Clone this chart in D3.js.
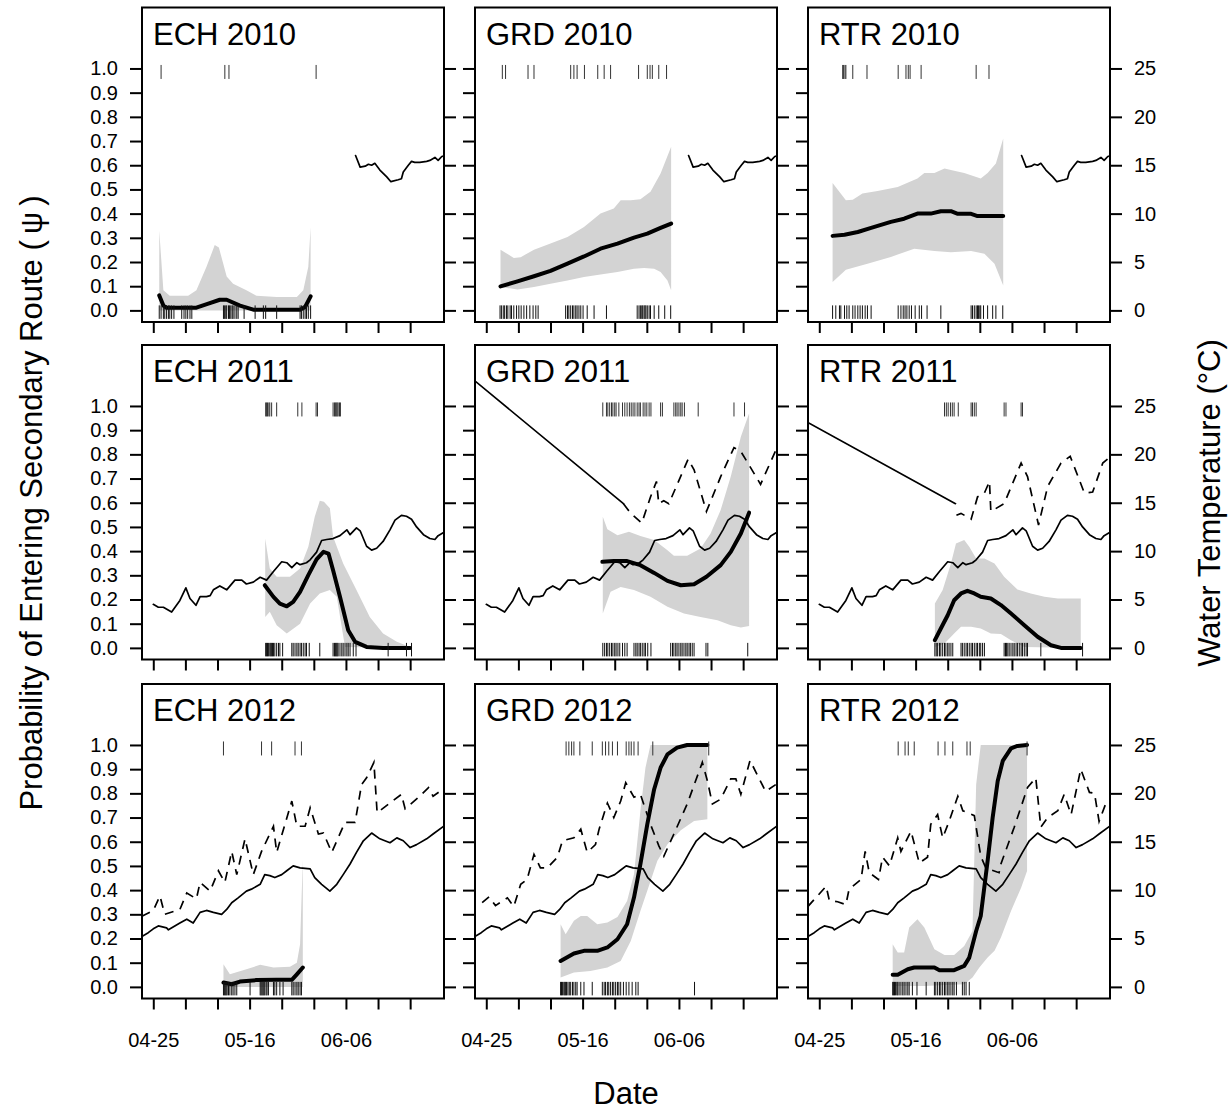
<!DOCTYPE html>
<html>
<head>
<meta charset="utf-8">
<script src="https://cdn.jsdelivr.net/npm/d3@7"></script>
<style>
  body { margin: 0; background: #fff; }
  text { font-family: "Liberation Sans", Arial, Helvetica, sans-serif; fill: #000; }
</style>
</head>
<body>
<svg id="chart" width="1229" height="1112"></svg>
<script>
// ---------- data: days since 25 April, probability (psi) or temperature (°C) ----------
const sites = ["ECH", "GRD", "RTR"];
const years = [2010, 2011, 2012];
const probTicks = [0, 0.1, 0.2, 0.3, 0.4, 0.5, 0.6, 0.7, 0.8, 0.9, 1.0];
const tempTicks = [0, 5, 10, 15, 20, 25];
const weekTicks = [0, 7, 14, 21, 28, 35, 42, 49, 56];

// fitted probability (thick line) and 95% band [day, value]
const fitECH2010 = [[1.3,.062],[2.2,.02],[2.9,.011],[9.4,.011],[12,.028],[14.5,.044],[16,.044],[18.9,.02],[21.8,.003],[32,.003],[33.1,.014],[34.3,.058]];
const hiECH2010 = [[1.3,.33],[2.2,.083],[3.6,.06],[7.6,.06],[9.4,.083],[11.6,.18],[13.4,.27],[14.3,.26],[16,.14],[17.4,.11],[20.3,.083],[22.5,.06],[26.9,.055],[31.3,.055],[32.7,.083],[33.8,.18],[34.3,.345]];
const loECH2010 = [[1.3,0],[34.3,0]];
const fitGRD2010 = [[3.1,.099],[6.8,.12],[10.4,.141],[14,.163],[17.7,.193],[21.3,.223],[24.9,.255],[28.6,.276],[32.2,.301],[35.1,.317],[38,.341],[40.3,.359]];
const hiGRD2010 = [[3.1,.251],[6,.217],[7.5,.22],[10.4,.251],[14,.276],[17.7,.303],[21.3,.345],[24.9,.4],[27.8,.421],[29.3,.455],[31.5,.455],[33.6,.459],[35.8,.49],[38,.566],[40.3,.676]];
const loGRD2010 = [[3.1,.097],[6.8,.086],[10.4,.097],[14,.11],[17.7,.124],[21.3,.138],[24.9,.148],[28.6,.159],[32.2,.172],[34.4,.175],[36.6,.172],[38,.159],[39.5,.124],[40.3,.083]];
const fitRTR2010 = [[2.9,.308],[5.5,.313],[8.4,.324],[11.3,.341],[15.6,.366],[18.5,.379],[21.4,.4],[24.3,.4],[26.5,.41],[28.7,.41],[30.2,.399],[33.1,.399],[34.5,.39],[40.1,.39]];
const hiRTR2010 = [[2.9,.527],[5.8,.455],[7.3,.457],[9.4,.483],[12.7,.494],[17.1,.51],[21.4,.545],[22.9,.568],[25.1,.568],[27.3,.586],[29.4,.577],[31.6,.568],[35.2,.545],[36.7,.568],[38.5,.607],[40.1,.71]];
const loRTR2010 = [[2.9,.117],[5.8,.168],[10.5,.193],[15.6,.221],[20.7,.255],[25.1,.246],[28.7,.24],[33.1,.246],[36,.234],[38.2,.193],[40.1,.103]];

const fitECH2011 = [[24.3,.259],[26.2,.211],[27.6,.183],[29.1,.172],[30.5,.19],[32,.232],[33.8,.301],[35.6,.366],[37.1,.397],[38.2,.39],[39.2,.321],[40.7,.211],[42.5,.073],[44,.025],[46.5,.004],[50.1,0],[56,0]];
const hiECH2011 = [[24.4,.452],[25.4,.328],[26.9,.294],[29.8,.294],[32,.328],[33.8,.418],[35.2,.542],[36.3,.608],[37.2,.604],[38.5,.577],[39.2,.459],[41.4,.349],[44.3,.239],[47.2,.128],[50.1,.059],[53.1,.025],[56,.004]];
const loECH2011 = [[24.4,.128],[25.4,.149],[26.9,.094],[29.1,.059],[32,.1],[34.2,.183],[36.3,.225],[38.5,.239],[40,.211],[41.8,.004],[56,0]];
const fitGRD2011 = [[25.3,.356],[27.8,.359],[30.7,.359],[33.6,.342],[36.6,.31],[39.5,.277],[42.4,.259],[45.3,.263],[48,.294],[51.1,.342],[53.3,.397],[55.5,.473],[57.3,.559]];
const hiGRD2011 = [[25.4,.542],[26.4,.49],[28.6,.466],[31.1,.48],[33.6,.462],[36.6,.446],[39.5,.404],[40.9,.381],[43.8,.381],[46.7,.411],[48.9,.473],[51.1,.57],[53.3,.708],[55.5,.873],[57.3,.97]];
const loGRD2011 = [[25.4,.142],[27.1,.232],[29.3,.252],[32.2,.239],[35.8,.211],[39.5,.17],[43.1,.142],[46.7,.128],[50.4,.114],[53.3,.094],[55.5,.084],[57.3,.09]];
const fitRTR2011 = [[25.2,.032],[26.5,.08],[28,.135],[29.4,.197],[30.9,.225],[32.3,.236],[33.8,.225],[35.2,.211],[37.4,.204],[39.6,.177],[41.8,.142],[44.7,.094],[47.6,.046],[50.5,.011],[52.7,0],[57,0]];
const hiRTR2011 = [[25.2,.183],[26.9,.239],[28.7,.349],[29.8,.432],[31.6,.446],[32.7,.418],[34.2,.37],[36,.37],[38.2,.349],[40.3,.294],[43.2,.241],[46.1,.225],[49.1,.211],[52,.204],[57,.204]];
const loRTR2011 = [[25.2,.004],[27.3,.018],[29.4,.059],[30.9,.087],[33.1,.087],[35.2,.08],[37.4,.059],[39.6,.057],[41.8,.032],[44.7,.004],[57,0]];

const fitECH2012 = [[15.3,.018],[17.1,.011],[18.9,.022],[22.5,.028],[26.9,.029],[30.2,.029],[31.3,.052],[32.6,.08]];
const hiECH2012 = [[15.3,.094],[16.7,.052],[20.3,.073],[23.3,.091],[26.2,.08],[29.8,.083],[31.3,.1],[32,.176],[32.6,.528]];
const loECH2012 = [[15.3,0],[32.6,0]];
const fitGRD2012 = [[16.2,.107],[19.1,.138],[21.3,.149],[24.2,.149],[26.4,.163],[28.6,.197],[30.7,.259],[32.2,.369],[33.6,.507],[35.1,.672],[36.6,.817],[38,.906],[39.5,.961],[41.6,.989],[43.8,1],[48.2,1]];
const hiGRD2012 = [[16.2,.259],[17.3,.218],[19.1,.273],[20.6,.293],[22,.293],[24.2,.259],[26.4,.266],[28.6,.289],[30.7,.355],[32.2,.466],[33.6,.727],[34.7,.906],[35.8,1],[48.2,1]];
const loGRD2012 = [[16.2,.039],[19.1,.059],[22.7,.066],[26.4,.08],[29.3,.107],[31.5,.19],[33.6,.314],[35.1,.397],[37.3,.521],[39.5,.59],[42.4,.647],[45.3,.686],[48.2,.693]];
const fitRTR2012 = [[16,.05],[17.1,.05],[19.3,.073],[20.7,.08],[25.1,.08],[26.2,.069],[29.4,.069],[31.6,.087],[32.7,.121],[34.2,.231],[35.2,.293],[36.7,.521],[37.8,.7],[38.9,.851],[40,.934],[41.8,.986],[43.2,.996],[45.3,1]];
const hiRTR2012 = [[16,.176],[17.1,.142],[18.5,.142],[19.6,.245],[21.4,.28],[22.9,.245],[25.1,.156],[27.3,.132],[29.4,.132],[31.6,.169],[33.4,.231],[34.2,.837],[35.2,1],[45.3,1]];
const loRTR2012 = [[16,.004],[22.9,.004],[31.6,.011],[33.4,.039],[34.9,.08],[36.7,.121],[38.2,.149],[39.6,.204],[41.8,.314],[44,.41],[45.3,.479]];

// detections: routes not taken (psi = 0) and secondary route (psi = 1), in days
const rug0ECH2010 = [1.3,1.7,2.2,2.5,2.9,3.3,3.6,4.0,4.5,6.2,6.7,7.1,7.5,8.0,8.4,15.3,15.5,15.8,16.0,16.4,16.6,16.9,17.2,17.4,17.8,18.2,18.5,19.8,22.2,24.0,24.5,26.9,32.0,32.3,32.7,33.1,33.4,33.8,34.3];
const rug1ECH2010 = [1.7,15.6,16.5,35.5];
const rug0GRD2010 = [3.0,3.3,3.7,4.0,4.4,4.7,5.2,5.5,6.0,6.6,7.1,7.6,8.2,8.8,9.5,10.2,10.8,11.3,17.3,17.7,18.0,18.4,18.8,19.1,19.5,19.8,20.2,20.6,21.1,22.0,23.5,26.2,32.9,33.3,33.6,33.9,34.1,34.4,34.6,34.8,35.1,35.5,35.8,36.6,37.6,38.9,40.2];
const rug1GRD2010 = [3.5,4.2,9.1,10.4,18.4,19.1,19.8,21.4,24.3,25.7,27.1,33.2,35.1,35.7,36.2,37.6,39.3];
const rug0RTR2010 = [2.9,3.6,4.4,4.7,5.5,6.0,6.5,7.3,7.8,8.4,8.9,9.4,10.0,10.5,11.3,17.2,17.8,18.3,18.7,19.1,19.6,20.1,20.9,21.8,22.3,23.5,26.5,33.1,33.4,33.8,34.2,34.5,34.7,35.0,35.2,35.8,36.7,37.8,38.5,40.0];
const rug1RTR2010 = [5.1,5.3,5.6,5.8,7.3,10.4,17.2,18.9,19.4,19.8,22.2,34.2,37.0];
const rug0ECH2011 = [24.5,24.7,24.9,25.1,25.4,25.6,25.8,26.0,26.2,26.5,26.9,27.3,27.6,28.2,30.2,30.5,30.9,31.3,31.6,32.0,32.3,32.7,33.1,33.4,34.0,36.3,39.2,39.5,39.7,39.9,40.1,40.3,40.7,41.1,41.4,41.8,42.2,42.5,42.9,43.6,44.2,51.2,55.2,56.3];
const rug1ECH2011 = [24.5,24.7,24.9,25.2,25.4,25.8,26.9,31.5,32.4,35.5,35.8,39.2,39.5,39.7,39.9,40.1,40.3,40.6,40.8];
const rug0GRD2011 = [25.4,25.8,26.2,26.5,26.9,27.3,27.6,28.0,28.3,28.7,29.1,29.7,30.2,30.7,32.2,32.6,32.9,33.3,33.6,34.0,34.4,34.7,35.2,35.9,40.2,40.6,40.9,41.3,41.6,42.0,42.4,42.7,43.1,43.5,43.8,44.2,44.5,44.9,45.3,47.9,48.3,57.0];
const rug1GRD2011 = [25.4,26.2,26.5,26.9,27.3,27.6,28.0,28.3,28.9,29.7,30.2,30.7,31.2,31.6,32.0,32.4,32.9,33.3,33.6,34.2,34.6,35.0,35.5,35.9,38.0,38.4,40.9,41.3,41.6,42.0,42.4,42.7,43.2,46.2,54.0,56.3];
const rug0RTR2011 = [25.2,25.5,25.8,26.2,26.5,26.9,27.3,27.6,28.0,28.3,28.7,29.1,30.9,31.2,31.6,32.0,32.3,32.7,33.1,33.4,33.8,34.2,34.5,34.9,35.2,35.6,36.0,40.3,40.6,40.8,41.1,41.4,41.8,42.2,42.5,42.9,43.2,43.6,44.0,44.3,44.7,45.1,45.4,48.3,57.4];
const rug1RTR2011 = [27.3,27.7,28.1,28.6,29.0,29.4,30.3,33.1,33.4,33.8,34.2,40.3,40.7,44.0,44.3];
const rug0ECH2012 = [15.3,15.5,15.7,15.9,16.1,16.4,16.7,17.1,17.4,17.8,18.2,21.1,23.3,23.5,23.7,23.9,24.1,24.3,24.6,24.8,25.1,26.2,26.5,26.9,27.6,28.3,30.2,30.5,30.9,31.3,31.6,32.0,32.3];
const rug1ECH2012 = [15.3,23.6,25.8,30.9,32.3];
const rug0GRD2012 = [16.2,16.4,16.6,16.9,17.1,17.3,17.5,17.8,18.1,18.4,18.8,19.1,19.5,19.8,20.6,21.3,23.1,25.3,25.7,26.0,26.4,26.7,27.1,27.5,27.8,28.2,28.6,28.9,29.3,29.9,30.5,31.1,31.8,32.6,33.1,45.4];
const rug1GRD2012 = [17.4,18.0,18.6,19.1,20.4,23.1,25.3,26.0,26.7,27.5,28.6,30.5,31.1,31.6,32.2,33.1,36.3,48.5];
const rug0RTR2012 = [16.0,16.2,16.4,16.6,16.9,17.1,17.4,17.8,18.2,18.5,18.9,19.3,19.6,20.3,21.3,23.3,25.1,25.4,25.8,26.2,26.5,26.9,27.3,27.6,28.0,28.3,28.7,29.1,29.4,29.9,31.2,31.6,32.0,32.7];
const rug1RTR2012 = [17.2,18.7,19.4,20.7,25.9,27.4,29.1,32.2,32.9,45.3];

// water temperature (°C): main-stem logger (solid) and site loggers (dashed)
const temp2010 = [[44.1,16.0],[45.1,14.8],[46.2,14.9],[46.9,15.1],[47.6,15.0],[48.3,15.2],[49.4,14.5],[50.9,13.8],[51.8,13.3],[53.4,13.5],[54.1,13.6],[54.5,14.3],[55.6,15.0],[56.3,15.4],[57.0,15.3],[58.1,15.3],[59.6,15.4],[60.3,15.5],[61.4,15.8],[62.1,15.5],[62.9,15.9],[63.6,16.0]];
const temp2011 = [[0,4.5],[1.1,4.2],[2.2,4.2],[4,3.7],[5.8,4.9],[7.1,6.2],[8,5.1],[9.3,4.4],[10.2,5.3],[11.6,5.3],[12.4,5.4],[13.1,6.0],[14.5,6.4],[16,6.0],[17.8,7.0],[19.3,7.0],[20.3,6.6],[21.8,6.8],[23.3,7.3],[24.7,7.0],[26.2,7.9],[28,8.9],[29.1,8.8],[30.2,8.3],[31.3,8.8],[32,8.6],[33.4,8.8],[34.2,9.1],[35.6,9.9],[36.7,11.1],[37.8,11.2],[39.2,11.3],[40.7,11.6],[42.2,12.2],[42.9,11.7],[44.3,12.4],[45.1,12.1],[46.5,10.5],[47.6,10.1],[48.7,10.3],[50.1,11.0],[51.6,12.2],[52.7,13.2],[54.1,13.7],[55.2,13.6],[56.3,13.3],[57.4,12.5],[58.9,11.7],[60.3,11.3],[61.4,11.2],[62.1,11.6],[63.6,12.0]];
const temp2012 = [[-2.5,5.2],[-1.1,5.6],[0,6.0],[1.1,6.3],[2.9,6.1],[3.3,5.9],[5.8,6.6],[7.3,7.0],[8.7,6.6],[10.2,7.7],[11.6,7.9],[13.1,7.7],[14.9,7.5],[16,8.0],[17.1,8.7],[18.5,9.2],[20.3,9.9],[21.4,10.1],[23.3,10.6],[24.3,11.6],[25.4,11.5],[26.5,11.3],[28,11.6],[29.1,12.0],[30.5,12.5],[32,12.3],[34.2,12.2],[35.2,11.3],[36.7,10.6],[38.5,9.9],[40,10.6],[41.4,11.6],[42.9,12.7],[44.3,13.9],[45.8,15.1],[47.6,15.9],[49.4,15.3],[51.6,14.9],[53.1,15.4],[54.5,15.1],[56,14.4],[57.4,14.7],[59.6,15.3],[61,15.8],[63.6,16.7]];
const siteLinkGRD2011 = [[-2.5,27.6],[29.9,14.9]];
const siteTempGRD2011 = [[29.9,14.9],[31.5,13.9],[33.9,12.9],[35.8,15.6],[37.1,17.2],[37.6,14.9],[38.7,15.2],[39.8,14.9],[44.0,19.5],[45.3,18.4],[48.0,14.1],[51.1,17.7],[54.0,20.7],[55.5,20.3],[59.8,16.9],[63.1,20.4],[63.6,20.5]];
const siteLinkRTR2011 = [[-2.5,23.3],[29.7,14.9]];
const siteTempRTR2011 = [[29.9,13.7],[30.9,13.9],[33.1,13.3],[34.5,15.6],[36,16.0],[37.1,17.2],[37.4,14.1],[40.3,14.9],[44.0,19.1],[45.4,17.7],[47.8,12.7],[49.8,16.7],[52.7,19.1],[54.7,19.8],[57.8,16.0],[59.6,16.1],[61.8,19.1],[63.6,19.8]];
const siteTempECH2012 = [[-2.5,7.3],[0,7.9],[1.45,9.4],[2.5,7.5],[5.8,8.0],[7.3,9.7],[9.4,9.1],[10.2,10.8],[12.4,9.9],[14.2,12.0],[15.6,10.8],[17.1,14.0],[18.2,11.6],[20,15.3],[21.8,11.6],[23.6,14.0],[26.2,16.6],[26.9,13.9],[30.2,19.2],[31.3,16.6],[33.1,16.6],[34.2,18.5],[36,15.8],[37.1,15.9],[38.9,13.9],[41.8,17.0],[44,17.0],[45.4,20.9],[46.5,21.6],[48.1,23.2],[48.8,18.0],[51.6,19.0],[54.1,19.9],[54.9,18.4],[58.1,19.7],[60,20.6],[61,19.7],[63.6,20.6]];
const siteTempGRD2012 = [[-0.9,8.7],[0.6,9.3],[2,8.4],[4.6,9.2],[6,8.3],[7.5,10.6],[8.9,11.1],[10.4,13.7],[11.8,12.3],[13.3,12.3],[15.5,13.4],[16.6,15.1],[19.1,15.4],[20.6,16.3],[22,13.9],[23.8,14.7],[24.6,16.3],[26.4,19.0],[27.8,17.5],[29.3,19.2],[30.4,21.1],[32.2,19.6],[33.6,19.9],[35.8,16.8],[37.6,14.6],[38.7,13.5],[40.9,15.8],[43.8,18.9],[47.1,23.2],[48.2,21.3],[49.3,18.9],[51.1,19.4],[53.3,21.5],[54.4,21.5],[55.5,19.9],[57.5,23.4],[60.9,20.2],[63.1,20.9]];
const siteTempRTR2012 = [[-2.5,8.3],[-0.4,9.4],[1.5,10.4],[2.2,8.9],[4,8.8],[5.8,8.5],[6.5,10.1],[9.1,11.1],[10,14.0],[10.9,11.8],[12.9,11.1],[13.8,13.4],[15.3,12.5],[17.1,15.4],[17.8,14.0],[20,16.1],[21.8,12.8],[23.6,13.4],[24.3,16.8],[25.8,17.8],[26.9,15.4],[28.3,17.1],[30.2,19.7],[31.3,18.2],[33.8,17.7],[35.2,13.5],[36.3,12.3],[39.2,11.8],[39.6,12.7],[42.5,16.5],[45.4,20.6],[47.2,21.6],[48.3,16.5],[49.8,17.5],[52,18.2],[53.4,19.9],[54.9,17.8],[57,22.5],[58.9,20.1],[60,20.0],[61,17.1],[62.5,19.0],[63.6,19.4]];

// ---------- panel table ----------
const panels = [
  { site: "ECH", year: 2010, fit: fitECH2010, hi: hiECH2010, lo: loECH2010, rug0: rug0ECH2010, rug1: rug1ECH2010, solid: [temp2010], dashed: [] },
  { site: "GRD", year: 2010, fit: fitGRD2010, hi: hiGRD2010, lo: loGRD2010, rug0: rug0GRD2010, rug1: rug1GRD2010, solid: [temp2010], dashed: [] },
  { site: "RTR", year: 2010, fit: fitRTR2010, hi: hiRTR2010, lo: loRTR2010, rug0: rug0RTR2010, rug1: rug1RTR2010, solid: [temp2010], dashed: [] },
  { site: "ECH", year: 2011, fit: fitECH2011, hi: hiECH2011, lo: loECH2011, rug0: rug0ECH2011, rug1: rug1ECH2011, solid: [temp2011], dashed: [] },
  { site: "GRD", year: 2011, fit: fitGRD2011, hi: hiGRD2011, lo: loGRD2011, rug0: rug0GRD2011, rug1: rug1GRD2011, solid: [temp2011, siteLinkGRD2011], dashed: [siteTempGRD2011] },
  { site: "RTR", year: 2011, fit: fitRTR2011, hi: hiRTR2011, lo: loRTR2011, rug0: rug0RTR2011, rug1: rug1RTR2011, solid: [temp2011, siteLinkRTR2011], dashed: [siteTempRTR2011] },
  { site: "ECH", year: 2012, fit: fitECH2012, hi: hiECH2012, lo: loECH2012, rug0: rug0ECH2012, rug1: rug1ECH2012, solid: [temp2012], dashed: [siteTempECH2012] },
  { site: "GRD", year: 2012, fit: fitGRD2012, hi: hiGRD2012, lo: loGRD2012, rug0: rug0GRD2012, rug1: rug1GRD2012, solid: [temp2012], dashed: [siteTempGRD2012] },
  { site: "RTR", year: 2012, fit: fitRTR2012, hi: hiRTR2012, lo: loRTR2012, rug0: rug0RTR2012, rug1: rug1RTR2012, solid: [temp2012], dashed: [siteTempRTR2012] }
];

// ---------- layout ----------
const colLeft = [142, 475, 808];
const rowTop = [7.5, 345, 684];
const W = 302, H = 314.5;
const tickFont = 20, titleFont = 31;

const base = Date.UTC(2011, 3, 25);
const toDate = d => new Date(base + d * 864e5);

const x = d3.scaleUtc().domain([toDate(-2.46), toDate(63.38)]).range([0, W]);
const yP = d3.scaleLinear().domain([-0.048, 1.252]).range([H, 0]);
const yT = d3.scaleLinear().domain([-1.2, 31.3]).range([H, 0]);
const fmtDate = d3.utcFormat("%m-%d");

const svg = d3.select("#chart");
const probLine = d3.line().x(d => x(toDate(d[0]))).y(d => yP(d[1]));
const tempLine = d3.line().x(d => x(toDate(d[0]))).y(d => yT(d[1]));

svg.append("defs").append("clipPath").attr("id", "plotClip")
  .append("rect").attr("x", 0).attr("y", 0).attr("width", W).attr("height", H);

panels.forEach(p => {
  const col = sites.indexOf(p.site), row = years.indexOf(p.year);
  const g = svg.append("g").attr("transform", `translate(${colLeft[col]},${rowTop[row]})`);
  const plot = g.append("g").attr("clip-path", "url(#plotClip)");

  // confidence band
  plot.append("path")
    .attr("d", probLine([...p.hi, ...p.lo.slice().reverse()]) + "Z")
    .attr("fill", "#d3d3d3").attr("stroke", "none");

  // temperature lines
  p.solid.forEach(s => plot.append("path").attr("d", tempLine(s))
    .attr("fill", "none").attr("stroke", "#000").attr("stroke-width", 1.7)
    .attr("stroke-linejoin", "round").attr("stroke-linecap", "round"));
  p.dashed.forEach(s => plot.append("path").attr("d", tempLine(s))
    .attr("fill", "none").attr("stroke", "#000").attr("stroke-width", 1.7)
    .attr("stroke-dasharray", "9,7"));

  // fitted probability
  plot.append("path").attr("d", probLine(p.fit))
    .attr("fill", "none").attr("stroke", "#000").attr("stroke-width", 4)
    .attr("stroke-linejoin", "round").attr("stroke-linecap", "round");

  // detection rugs
  plot.selectAll(".r0").data(p.rug0).join("line")
    .attr("x1", d => x(toDate(d))).attr("x2", d => x(toDate(d)))
    .attr("y1", yP(0) - 5).attr("y2", yP(0) + 8.5)
    .attr("stroke", "#111").attr("stroke-width", 1);
  plot.selectAll(".r1").data(p.rug1).join("line")
    .attr("x1", d => x(toDate(d))).attr("x2", d => x(toDate(d)))
    .attr("y1", yP(1) - 3.5).attr("y2", yP(1) + 10.5)
    .attr("stroke", "#333").attr("stroke-width", 1);

  // axes
  const xAxis = d3.axisBottom(x).tickValues(weekTicks.map(toDate)).tickSize(11).tickPadding(23)
    .tickFormat((d, k) => (row === 2 && k % 3 === 0) ? fmtDate(d) : "");
  const leftAxis = d3.axisLeft(yP).tickValues(probTicks).tickSize(12).tickPadding(12)
    .tickFormat(col === 0 ? d3.format(".1f") : () => "");
  const rightAxis = d3.axisRight(yT).tickValues(tempTicks).tickSize(12).tickPadding(12)
    .tickFormat(col === 2 ? d3.format("d") : () => "");

  [[xAxis, `translate(0,${H})`], [leftAxis, null], [rightAxis, `translate(${W},0)`]].forEach(([ax, tr]) => {
    const a = g.append("g").call(ax);
    if (tr) a.attr("transform", tr);
    a.select(".domain").remove();
    a.selectAll("line").attr("stroke-width", 2);
    a.selectAll("text").attr("font-size", tickFont).attr("font-family", null).attr("fill", "#000");
  });

  // frame
  g.append("rect").attr("width", W).attr("height", H)
    .attr("fill", "none").attr("stroke", "#000").attr("stroke-width", 2);

  // panel label
  g.append("text").attr("x", 11).attr("y", 37)
    .attr("font-size", titleFont).text(`${p.site} ${p.year}`);
});

// axis titles
const midY = (rowTop[0] + rowTop[2] + H) / 2;
svg.append("text").attr("x", (colLeft[0] + colLeft[2] + W) / 2).attr("y", 1104)
  .attr("text-anchor", "middle").attr("font-size", titleFont).text("Date");
svg.append("text").attr("transform", `translate(42,${midY}) rotate(-90)`)
  .attr("text-anchor", "middle").attr("font-size", titleFont)
  .text("Probability of Entering Secondary Route (\u2009ψ\u2009)");
svg.append("text").attr("transform", `translate(1220,${midY}) rotate(-90)`)
  .attr("text-anchor", "middle").attr("font-size", titleFont)
  .text("Water Temperature (°C)");
</script>
</body>
</html>
